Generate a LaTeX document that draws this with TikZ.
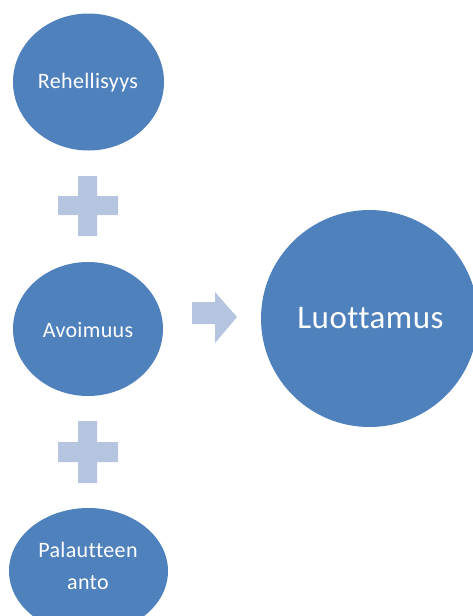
\documentclass[tikz,border=0pt]{standalone}
\usepackage{fontspec}
\setmainfont[Ligatures=NoCommon, LetterSpace=1.5]{Carlito}
\usetikzlibrary{shapes.geometric}
\definecolor{disc}{HTML}{4F81BD}
\definecolor{sign}{HTML}{B5C5DF}
\tikzset{
  disc/.style={ellipse, fill=disc, draw=none, inner sep=0pt},
  word/.style={text=white, anchor=base, inner sep=0pt, font=\fontsize{22}{26}\selectfont},
  bigword/.style={text=white, anchor=base, inner sep=0pt, font=\fontsize{33}{38}\selectfont},
  sign/.style={fill=sign, draw=none}
}
\begin{document}
\begin{tikzpicture}[x=1pt, y=-1pt]
  \useasboundingbox (0,0) rectangle (473,616);
  \clip (0,0) rectangle (473,616);

  % the three qualities
  \node[disc, minimum width=151pt, minimum height=137pt] (reh) at (88.5,82) {};
  \node[disc, minimum width=150pt, minimum height=134pt] (avo) at (88,329) {};
  \node[disc, minimum width=159pt, minimum height=126pt] (pal) at (88.5,571) {};

  % the result
  \node[disc, minimum width=217pt, minimum height=217pt] (luo) at (369.5,318.5) {};

  \node[word] (rehtxt) at (88,88) {Rehellisyys};
  \node[word] (avotxt) at (88,337) {Avoimuus};
  \node[word] (paltxt) at (88,557) {Palautteen};
  \node[word] (paltxtb) at (88,589) {anto};
  \node[bigword] (luotxt) at (370.5,328) {Luottamus};

  % plus signs between the qualities
  \fill[sign] (78,176) -- (97,176) -- (97,196) -- (118,196) -- (118,215) -- (97,215)
    -- (97,236) -- (78,236) -- (78,215) -- (58,215) -- (58,196) -- (78,196) -- cycle;
  \fill[sign] (78,421) -- (97,421) -- (97,442) -- (118,442) -- (118,462) -- (97,462)
    -- (97,483) -- (78,483) -- (78,462) -- (58,462) -- (58,442) -- (78,442) -- cycle;

  % arrow towards the result
  \fill[sign] (192,302) -- (215,302) -- (215,292) -- (237,317) -- (215,343)
    -- (215,324) -- (192,324) -- cycle;
\end{tikzpicture}
\end{document}
